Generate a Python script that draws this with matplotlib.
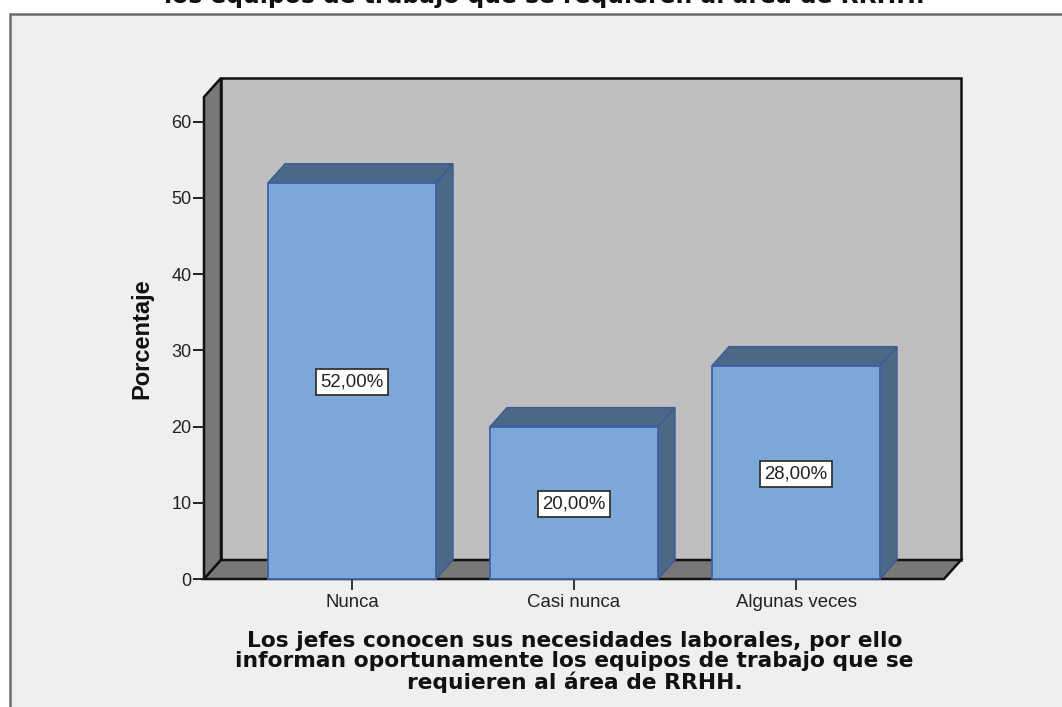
import matplotlib
matplotlib.use("Agg")
import matplotlib.pyplot as plt
from matplotlib.patches import Polygon, Rectangle

categories = ["Nunca", "Casi nunca", "Algunas veces"]
values = [52, 20, 28]
value_labels = ["52,00%", "20,00%", "28,00%"]
yticks = [0, 10, 20, 30, 40, 50, 60]
ylabel = "Porcentaje"
xlabel = ("Los jefes conocen sus necesidades laborales, por ello\n"
          "informan oportunamente los equipos de trabajo que se\n"
          "requieren al área de RRHH.")
title_cut = "los equipos de trabajo que se requieren al área de RRHH."

W, H = 1062, 707
fig = plt.figure(figsize=(W / 100, H / 100), dpi=100, facecolor="white")

# outer panel
bg = fig.add_axes([0, 0, 1, 1], zorder=0)
bg.set_xlim(0, W); bg.set_ylim(H, 0); bg.axis("off")
bg.add_patch(Rectangle((10, 14), W, H, facecolor="#EFEFEF", edgecolor="#6A6A6A", lw=1.8))

# plot axes = front plane of the 3D box
L, R, T, B = 204, 944, 97, 579
ax = fig.add_axes([L / W, 1 - B / H, (R - L) / W, (B - T) / H], zorder=1)
px_x = 222.0          # pixels per category
px_y = 7.62           # pixels per percent
x0 = (L - 352) / px_x
x1 = (R - 352) / px_x
y1 = (B - T) / px_y
ax.set_xlim(x0, x1)
ax.set_ylim(0, y1)
ax.patch.set_alpha(0)
for s in ax.spines.values():
    s.set_visible(False)

dx = 17 / px_x
dy = 19 / px_y
bw = 168 / px_x
ink = "#111111"
wall = "#BFBFBF"
side = "#787878"
front = "#7BA8D6"
dark = "#4B6886"
edge = "#3F5FA8"

def poly(pts, fc, ec, lw=1.6, z=2):
    ax.add_patch(Polygon(pts, closed=True, facecolor=fc, edgecolor=ec, lw=lw,
                         clip_on=False, zorder=z, joinstyle="miter"))

# back wall, left wall, floor
poly([(x0 + dx, dy), (x1 + dx, dy), (x1 + dx, y1 + dy), (x0 + dx, y1 + dy)], wall, ink, 1.8, 1)
poly([(x0, 0), (x0 + dx, dy), (x0 + dx, y1 + dy), (x0, y1)], side, ink, 1.8, 1.1)
poly([(x0, 0), (x1, 0), (x1 + dx, dy), (x0 + dx, dy)], side, ink, 1.8, 1.1)

# bars
xs = list(range(len(categories)))
for x, v, lab in zip(xs, values, value_labels):
    l, r = x - bw / 2, x + bw / 2
    poly([(l, v), (r, v), (r + dx, v + dy), (l + dx, v + dy)], dark, "#3B5A96", 1.0, 3)
    poly([(r, 0), (r + dx, dy), (r + dx, v + dy), (r, v)], dark, "#3B5A96", 1.0, 3)
    ax.bar(x, v, width=bw, color=front, edgecolor=edge, linewidth=1.3, zorder=4, clip_on=False)
    ax.text(x, v / 2 - 0.2, lab, ha="center", va="center", fontsize=13.4,
            family="Liberation Sans", color="#222222", zorder=5,
            bbox=dict(boxstyle="square,pad=0.24", fc="white", ec="#333333", lw=1.3))

ax.set_xticks(xs)
ax.set_xticklabels(categories, family="Liberation Sans", fontsize=13.4, color="#222222")
ax.set_yticks(yticks)
ax.set_yticklabels([str(t) for t in yticks], family="Liberation Sans", fontsize=13, color="#222222")
ax.tick_params(axis="x", length=8, width=1.4, color="#333333", pad=3)
ax.tick_params(axis="y", length=8, width=1.4, color="#222222", pad=1)

fig.text(142 / W, 1 - 339 / H, ylabel, rotation=90, ha="center", va="center",
         family="Liberation Sans", weight="bold", fontsize=17, color="#111111")
fig.text(574.5 / W, 1 - 662 / H, xlabel, ha="center", va="center", family="DejaVu Sans",
         weight="bold", fontsize=15.7, color="#111111", linespacing=1.03, zorder=5)
fig.text(544 / W, 1 - 3 / H, title_cut, ha="center", va="baseline", family="DejaVu Sans",
         weight="bold", fontsize=16.9, color="#111111")

fig.savefig("out.png", dpi=100, facecolor="white")
